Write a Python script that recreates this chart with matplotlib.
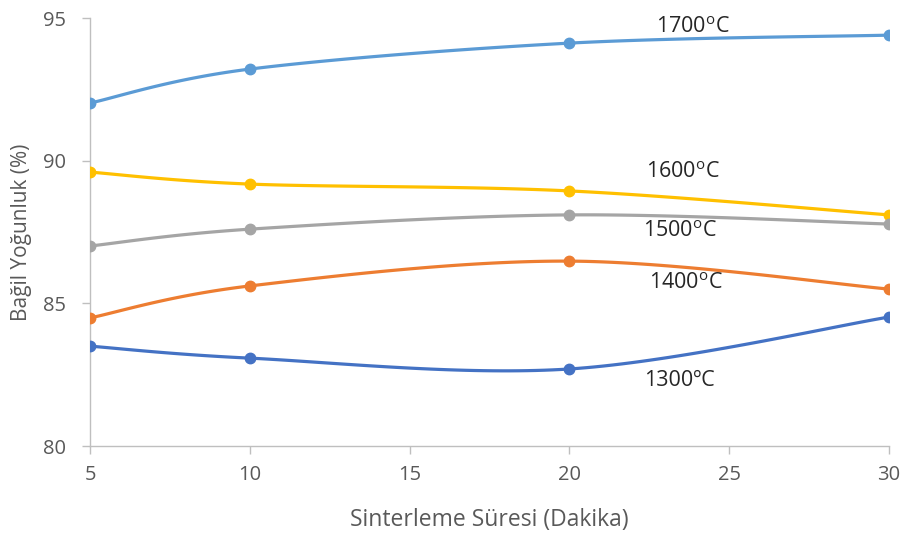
import numpy as np
import matplotlib
matplotlib.use("Agg")
import matplotlib.pyplot as plt

# sintering time (minutes) and relative density (%) per temperature
sure = [5, 10, 20, 30]
yog_1700 = [92.02, 93.21, 94.12, 94.40]
yog_1600 = [89.60, 89.18, 88.94, 88.10]
yog_1500 = [87.01, 87.60, 88.10, 87.78]
yog_1400 = [84.49, 85.61, 86.48, 85.50]
yog_1300 = [83.50, 83.08, 82.70, 84.52]

etiketler = [r"1700$^{\mathrm{o}}$C", r"1600$^{\mathrm{o}}$C", r"1500$^{\mathrm{o}}$C",
             r"1400$^{\mathrm{o}}$C", "1300ºC"]
etiket_x = [23.87, 23.55, 23.46, 23.65, 23.43]
etiket_y = [94.68, 89.57, 87.53, 85.71, 82.28]

renkler = ["#5B9BD5", "#FFC000", "#A5A5A5", "#ED7D31", "#4472C4"]


def smooth(x, y, n=40):
    """Catmull-Rom style smoothing between the points (like spreadsheet smoothed lines)."""
    x = np.asarray(x, float)
    y = np.asarray(y, float)
    px = np.concatenate([[x[0]], x, [x[-1]]])
    py = np.concatenate([[y[0]], y, [y[-1]]])
    xs, ys = [], []
    t = np.linspace(0, 1, n)
    for i in range(1, len(px) - 2):
        p0 = np.array([px[i], py[i]])
        p3 = np.array([px[i + 1], py[i + 1]])
        c1 = p0 + (np.array([px[i + 1], py[i + 1]]) - np.array([px[i - 1], py[i - 1]])) / 6
        c2 = p3 - (np.array([px[i + 2], py[i + 2]]) - np.array([px[i], py[i]])) / 6
        b = ((1 - t) ** 3)[:, None] * p0 + (3 * (1 - t) ** 2 * t)[:, None] * c1 \
            + (3 * (1 - t) * t ** 2)[:, None] * c2 + (t ** 3)[:, None] * p3
        xs.extend(b[:, 0])
        ys.extend(b[:, 1])
    return xs, ys


plt.rcParams['font.family'] = ['Open Sans', 'DejaVu Sans']
plt.rcParams['mathtext.fontset'] = 'custom'
plt.rcParams['mathtext.rm'] = 'Open Sans'

fig = plt.figure(figsize=(9.01, 5.33), dpi=100)
ax = fig.add_axes([0.0999, 0.1632, 0.8868, 0.8030])

seriler = [yog_1700, yog_1600, yog_1500, yog_1400, yog_1300]
for seri, renk in zip(seriler, renkler):
    sx, sy = smooth(sure, seri)
    ax.plot(sx, sy, color=renk, lw=2.3, solid_capstyle='round', zorder=2)
    ax.plot(sure, seri, 'o', color=renk, ms=7.5, zorder=3)

for txt, tx, ty in zip(etiketler, etiket_x, etiket_y):
    ax.text(tx, ty, txt, ha='center', va='center', fontsize=15.5, color='#262626')

ax.set_xlim(5, 30)
ax.set_ylim(80, 95)
ax.set_xticks([5, 10, 15, 20, 25, 30])
ax.set_yticks([80, 85, 90, 95])

for s in ['top', 'right']:
    ax.spines[s].set_visible(False)
for s in ['left', 'bottom']:
    ax.spines[s].set_color('#BFBFBF')
    ax.spines[s].set_linewidth(1.0)

ax.tick_params(axis='both', colors='#BFBFBF', labelcolor='#595959', labelsize=14.5,
               length=6, width=1.0)
ax.tick_params(axis='x', pad=8)
ax.tick_params(axis='y', pad=11)

ax.set_xlabel("Sinterleme Süresi (Dakika)", fontsize=16.5, color='#595959', labelpad=16)
ax.set_ylabel("Bağil Yoğunluk (%)", fontsize=15, color='#595959', labelpad=8)

fig.savefig("out.png", dpi=100)
